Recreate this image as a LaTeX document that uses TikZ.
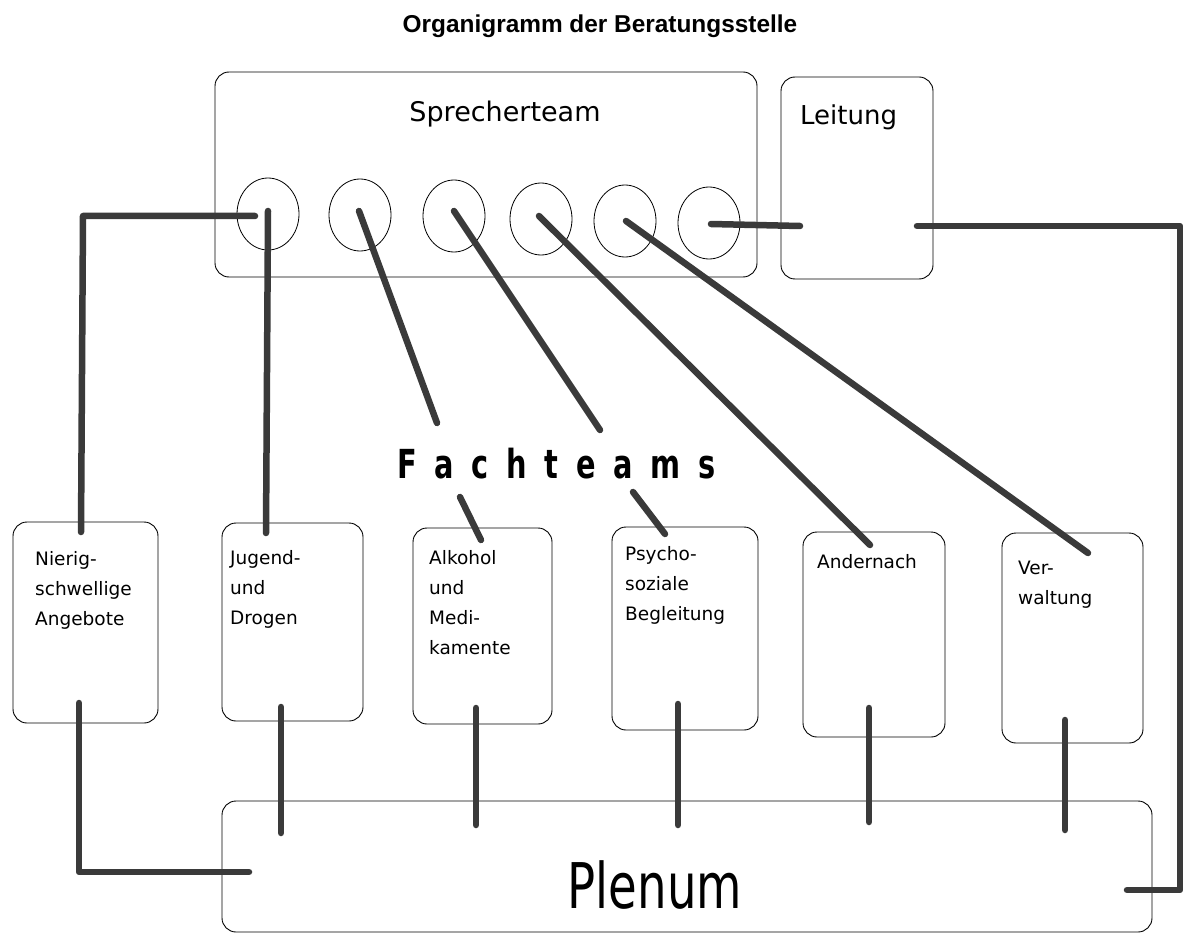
\documentclass[tikz,border=0pt]{standalone}
\usepackage{fontspec}
\usepackage{graphicx}
\setmainfont{DejaVu Sans}
\newfontfamily\titlefont{Liberation Sans}
\usetikzlibrary{shapes.geometric}
\definecolor{lineg}{RGB}{58,58,58}
\begin{document}
\begin{tikzpicture}[x=1pt,y=-1pt,
  box/.style={draw,line width=0.9pt,rounded corners=14pt,inner sep=0pt},
  circ/.style={draw,ellipse,line width=0.8pt,minimum width=62pt,minimum height=72pt,inner sep=0pt},
  conn/.style={draw=lineg,line width=6.5pt,line cap=round,line join=round},
  lbl/.style={anchor=north west,inner sep=0pt,align=left,font=\fontsize{18.5}{30}\selectfont}]
\useasboundingbox[fill=white] (0,0) rectangle (1184,936);

% title
\node[anchor=base,inner sep=0pt,font=\titlefont\bfseries\fontsize{24.4}{28}\selectfont] (title) at (600,33) {Organigramm der Beratungsstelle};

% boxes
\node[box,minimum width=542pt,minimum height=205pt] (spr) at (486,174.5) {};
\node[box,minimum width=152pt,minimum height=202pt] (lei) at (857,178) {};
\node[box,minimum width=145pt,minimum height=201pt] (nie) at (85.5,622.5) {};
\node[box,minimum width=141pt,minimum height=198pt] (jug) at (292.5,622) {};
\node[box,minimum width=139pt,minimum height=196pt] (alk) at (482.5,626) {};
\node[box,minimum width=146pt,minimum height=203pt] (psy) at (685,628.5) {};
\node[box,minimum width=142pt,minimum height=205pt] (and) at (874,634.5) {};
\node[box,minimum width=141pt,minimum height=210pt] (ver) at (1072.5,638) {};
\node[box,minimum width=930pt,minimum height=131pt] (ple) at (687,866.5) {};

% circles
\node[circ] (c1) at (268,214) {};
\node[circ] (c2) at (360,215) {};
\node[circ] (c3) at (454,216) {};
\node[circ] (c4) at (541,219) {};
\node[circ] (c5) at (625,221) {};
\node[circ] (c6) at (709,223) {};

% texts
\node[anchor=base,inner sep=0pt,font=\fontsize{27}{32}\selectfont] (sprt) at (505,122) {Sprecherteam};
\node[anchor=base west,inner sep=0pt,font=\fontsize{26}{30}\selectfont] (leit) at (800,125) {Leitung};
\node[lbl] (niet) at (35,551) {Nierig-\\schwellige\\Angebote};
\node[lbl] (jugt) at (230,550) {Jugend-\\und\\Drogen};
\node[lbl] (alkt) at (429,550) {Alkohol\\und\\Medi-\\kamente};
\node[lbl] (psyt) at (625,546) {Psycho-\\soziale\\Begleitung};
\node[lbl] (andt) at (817,554) {Andernach};
\node[lbl] (vert) at (1018,561) {Ver-\\waltung};
\node[anchor=base west,inner sep=0pt,font=\bfseries\fontsize{40}{44}\selectfont] (fach) at (397,478)
  {\scalebox{0.72}[1]{\makebox[442pt][s]{F a c h t e a m s}}};
\node[anchor=base,inner sep=0pt,font=\fontsize{63}{70}\selectfont] (plet) at (655,908) {\scalebox{0.74}[1]{Plenum}};

% connector end points
\coordinate (a1) at (255,216);
\coordinate (k1) at (83,216);
\coordinate (e1) at (81,532);
\coordinate (a2) at (268,211);
\coordinate (e2) at (266,533);
\coordinate (a3) at (359,211);
\coordinate (e3) at (437,423);
\coordinate (a4) at (454,211);
\coordinate (e4) at (600,430);
\coordinate (a5) at (539,216);
\coordinate (e5) at (870,545);
\coordinate (a6) at (626,221);
\coordinate (e6) at (1088,553);
\coordinate (a7) at (711,224);
\coordinate (e7) at (800,226);
\coordinate (a8) at (917,226);
\coordinate (k8) at (1180,226);
\coordinate (k9) at (1180,890);
\coordinate (e8) at (1127,890);
\coordinate (s1) at (460,497);
\coordinate (t1) at (481,540);
\coordinate (s2) at (633,492);
\coordinate (t2) at (665,534);
\coordinate (b0) at (79,703);
\coordinate (k0) at (79,872);
\coordinate (d0) at (249,872);
\coordinate (b1) at (281,707);
\coordinate (d1) at (281,833);
\coordinate (b2) at (476,708);
\coordinate (d2) at (476,825);
\coordinate (b3) at (678,704);
\coordinate (d3) at (678,825);
\coordinate (b4) at (869,708);
\coordinate (d4) at (869,822);
\coordinate (b5) at (1065,720);
\coordinate (d5) at (1065,830);

% connectors
\draw[conn] (a1) -- (k1) -- (e1);
\draw[conn] (a2) -- (e2);
\draw[conn] (a3) -- (e3);
\draw[conn] (a4) -- (e4);
\draw[conn] (a5) -- (e5);
\draw[conn] (a6) -- (e6);
\draw[conn] (a7) -- (e7);
\draw[conn] (a8) -- (k8) -- (k9) -- (e8);
\draw[conn] (s1) -- (t1);
\draw[conn] (s2) -- (t2);
\draw[conn] (b0) -- (k0) -- (d0);
\draw[conn] (b1) -- (d1);
\draw[conn] (b2) -- (d2);
\draw[conn] (b3) -- (d3);
\draw[conn] (b4) -- (d4);
\draw[conn] (b5) -- (d5);
\end{tikzpicture}
\end{document}
